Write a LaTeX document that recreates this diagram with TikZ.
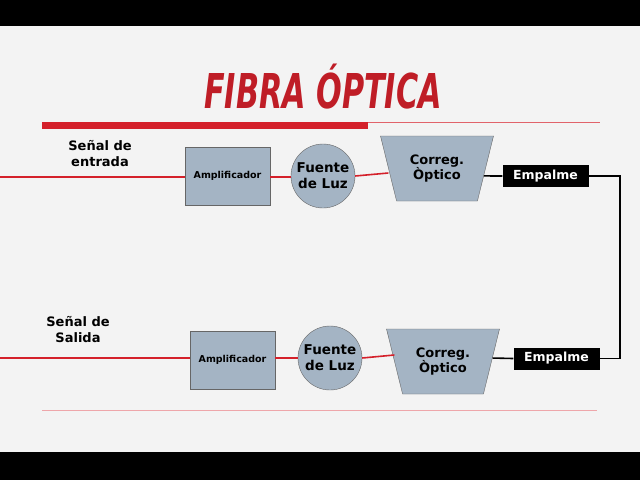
\documentclass[tikz,border=0pt]{standalone}
\usepackage{fontspec}
\setmainfont{DejaVu Sans}
\newfontfamily\titlefont{DejaVu Sans Condensed}
\usetikzlibrary{shapes.geometric}
\definecolor{boxfill}{HTML}{A4B4C4}
\definecolor{fibred}{HTML}{D4202A}
\definecolor{bg}{HTML}{F3F3F3}
\tikzset{x=1pt,y=-1pt,
 amp/.style={draw=gray!80!black,fill=boxfill,minimum width=85pt,minimum height=58pt,inner sep=0pt,font=\bfseries\fontsize{9.5}{11}\selectfont},
 src/.style={circle,draw=gray!80!black,fill=boxfill,minimum size=64pt,inner sep=0pt,align=center,font=\bfseries\fontsize{13.5}{16}\selectfont},
 corr/.style={trapezium,shape border rotate=180,trapezium left angle=60,trapezium right angle=60,draw=gray!80!black,fill=boxfill,minimum width=113pt,minimum height=65pt,trapezium stretches body,inner sep=0pt,align=center,font=\bfseries\fontsize{13}{15.5}\selectfont},
 emp/.style={fill=black,text=white,minimum width=86pt,minimum height=22pt,inner sep=0pt,font=\bfseries\fontsize{12.5}{14}\selectfont},
 lbl/.style={align=center,font=\bfseries\fontsize{13}{16}\selectfont},
 ttl/.style={font=\titlefont\bfseries\itshape\fontsize{48}{50}\selectfont,xscale=0.7},
 redline/.style={draw=fibred,line width=1.6pt},
 blkline/.style={draw=black,line width=1.6pt}}
\begin{document}
\begin{tikzpicture}
\useasboundingbox (0,0) rectangle (640,480);
\fill[bg] (0,0) rectangle (640,480);
\fill[black] (0,0) rectangle (640,26);
\fill[black] (0,452) rectangle (640,480);
\node (title) [ttl,text=fibred!90!black] at (323,87) {FIBRA ÓPTICA};
\fill[fibred] (42,122) rectangle (368,129);
\draw[fibred!70,line width=0.8pt] (368,122) -- (600,122);
\draw[fibred!40,line width=1pt] (42,410) -- (597,410);
% top row
\node[lbl] (in) at (100,154) {Señal de\\entrada};
\coordinate (inL) at (0,177);
\node[amp] (a1) at (227.5,176) {Amplificador};
\node[src] (s1) at (323,176) {Fuente\\de Luz};
\node[corr] (c1) at (437,168.5) {Correg.\\Òptico};
\node[emp] (e1) at (545.5,176) {Empalme};
% bottom row
\node[lbl] (out) at (78,330) {Señal de\\Salida};
\coordinate (outL) at (0,358);
\node[amp] (a2) at (232.5,360) {Amplificador};
\node[src] (s2) at (330,358) {Fuente\\de Luz};
\node[corr] (c2) at (443,361.5) {Correg.\\Òptico};
\node[emp] (e2) at (556.5,358.5) {Empalme};
\coordinate (r) at (620,0);
% connectors
\draw[redline] (inL) -- (a1.west |- inL);
\draw[redline] (a1.east |- inL) -- (s1.west |- inL);
\draw[redline] (s1.east) -- (c1.west |- 0,173);
\draw[blkline] (c1.-9) -- (e1.west);
\draw[blkline] (e1.east) -- (r |- e1) -- (r |- e2) -- (e2.east);
\draw[redline] (outL) -- (a2.west |- outL);
\draw[redline] (a2.east |- outL) -- (s2.west |- outL);
\draw[redline] (s2.east) -- (c2.west |- 0,355);
\draw[blkline] (c2.4) -- (e2.west);
\end{tikzpicture}
\end{document}
